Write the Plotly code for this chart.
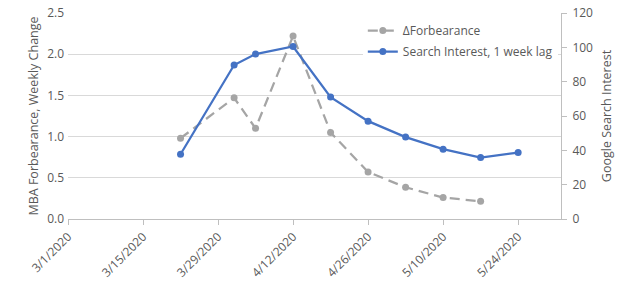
import plotly.graph_objects as go

forb_dates = ["2020-03-22", "2020-04-01", "2020-04-05", "2020-04-12", "2020-04-19",
              "2020-04-26", "2020-05-03", "2020-05-10", "2020-05-17"]
forb_values = [0.98, 1.47, 1.10, 2.22, 1.05, 0.57, 0.385, 0.26, 0.215]

search_dates = ["2020-03-22", "2020-04-01", "2020-04-05", "2020-04-12", "2020-04-19",
                "2020-04-26", "2020-05-03", "2020-05-10", "2020-05-17", "2020-05-24"]
search_values = [37.7, 89.7, 96.1, 100.5, 71.0, 57.0, 47.7, 40.7, 35.8, 38.7]

tick_dates = ["2020-03-01", "2020-03-15", "2020-03-29", "2020-04-12",
              "2020-04-26", "2020-05-10", "2020-05-24"]
tick_labels = ["3/1/2020", "3/15/2020", "3/29/2020", "4/12/2020",
               "4/26/2020", "5/10/2020", "5/24/2020"]

FONT = "Open Sans"
TXT = "#595959"

fig = go.Figure()
fig.add_trace(go.Scatter(
    x=forb_dates, y=forb_values, name="ΔForbearance", mode="lines+markers",
    line=dict(color="#a5a5a5", width=2.25, dash="10px,6px"),
    marker=dict(color="#a5a5a5", size=7), yaxis="y", legendgroup="a"))
fig.add_trace(go.Scatter(
    x=search_dates, y=search_values, name="Search Interest, 1 week lag",
    mode="lines+markers",
    line=dict(color="#4472c4", width=2.25),
    marker=dict(color="#4472c4", size=7), yaxis="y2", legendgroup="b"))

fig.update_layout(
    width=622, height=289,
    margin=dict(l=68, r=61, t=13, b=70, autoexpand=False),
    paper_bgcolor="white", plot_bgcolor="white",
    font=dict(family=FONT, size=12, color=TXT),
    showlegend=True,
    legend=dict(x=0.598, y=0.985, xanchor="left", yanchor="top",
                bgcolor="white", borderwidth=0,
                font=dict(family=FONT, size=12, color=TXT),
                itemwidth=30, tracegroupgap=2),
    xaxis=dict(type="date", range=["2020-03-01", "2020-06-01"],
               tickvals=tick_dates, ticktext=tick_labels, tickangle=-45,
               showline=True, linecolor="#bfbfbf", linewidth=1,
               ticks="outside", ticklen=5, tickcolor="#bfbfbf",
               showgrid=False, zeroline=False, automargin=False,
               tickfont=dict(family=FONT, size=12, color=TXT)),
    yaxis=dict(range=[0, 2.5], dtick=0.5, tickformat=".1f",
               showgrid=True, gridcolor="#d9d9d9", gridwidth=1,
               zeroline=False, showline=False, automargin=False,
               ticklabelstandoff=3,
               title=dict(text="MBA Forbearance, Weekly Change",
                          font=dict(family=FONT, size=12.5, color=TXT), standoff=5),
               tickfont=dict(family=FONT, size=12, color=TXT)),
    yaxis2=dict(range=[0, 120], dtick=20, overlaying="y", side="right",
                showgrid=False, zeroline=False, automargin=False,
                showline=True, linecolor="#bfbfbf", linewidth=1,
                ticks="outside", ticklen=5, tickcolor="#bfbfbf",
                ticklabelstandoff=3,
                title=dict(text="Google Search Interest",
                           font=dict(family=FONT, size=12.5, color=TXT), standoff=10),
                tickfont=dict(family=FONT, size=12, color=TXT)),
)

fig.write_html("out.html")
